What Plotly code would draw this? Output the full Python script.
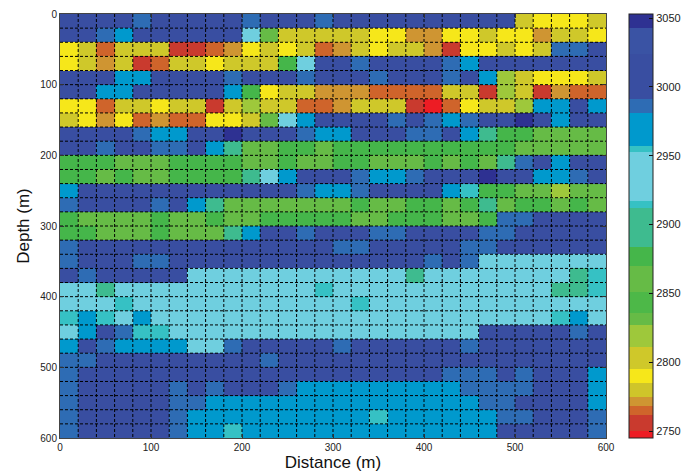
import plotly.graph_objects as go

# Cell edges (m): 20 m bins along distance and depth
distance_edges = list(range(0, 620, 20))
depth_edges = list(range(0, 620, 20))

# Interval velocity (m/s) per cell, rows from 0 m depth downward
velocity = [
    [3010,3010,3010,3010,2986,3010,3010,3010,3010,3010,2986,3010,3010,3010,2986,3010,3010,3010,3010,3010,3010,3010,3010,3010,3010,2803,2790,2790,2790,2803],
    [3010,3010,2986,2970,3010,3010,3010,3010,3010,3010,2935,2860,2803,2803,2803,2803,2803,2790,2790,2772,2772,2790,2790,2803,2790,2790,2772,2803,2803,2790],
    [2790,2803,2765,2803,2803,2803,2756,2756,2765,2772,2790,2803,2790,2803,2765,2772,2803,2790,2803,2803,2772,2756,2790,2790,2803,2790,2803,2986,2986,3010],
    [2790,2803,2772,2803,2756,2765,2803,2803,2790,2803,2803,2803,2877,2935,3010,3010,2986,3010,3010,3010,3010,2986,2970,3010,3010,3010,3010,3010,3010,3010],
    [3010,3010,3010,2970,2970,3010,3010,3010,3010,2986,3010,3010,3010,2986,3010,3010,3010,2986,3010,3010,3010,2986,3010,2970,2818,2803,2790,2790,2790,2803],
    [3010,3010,2970,2970,3010,3010,3010,3010,3010,2970,2877,2790,2803,2803,2772,2772,2772,2765,2765,2765,2765,2803,2803,2756,2818,2803,2756,2772,2765,2765],
    [2790,2790,2765,2803,2803,2790,2803,2803,2756,2803,2818,2803,2803,2765,2765,2772,2803,2803,2803,2756,2747,2765,2790,2803,2803,2818,2970,2970,3010,2970],
    [2803,2790,2772,2790,2765,2772,2765,2765,2790,2790,2803,2860,2935,2970,3010,3010,3010,3010,2986,3010,2986,2970,2986,3010,3010,3048,3010,2970,3010,3010],
    [3010,3010,3010,3010,2986,2970,2970,3010,3010,3048,3010,3010,3010,2986,2970,2970,3010,3010,3010,2986,2986,3010,2970,2898,2877,2877,2860,2860,2860,2860],
    [3010,3010,2986,3010,3010,2986,2986,3010,2970,2898,2860,2860,2877,2877,2860,2877,2877,2877,2877,2877,2877,2877,2877,2877,2877,2860,2860,2860,2860,2860],
    [2877,2877,2877,2860,2860,2860,2877,2877,2877,2877,2860,2860,2877,2860,2860,2877,2877,2860,2860,2860,2877,2860,2877,2860,2898,2986,3010,2970,3010,3010],
    [2877,2877,2860,2877,2860,2860,2877,2877,2877,2877,2898,2935,2970,3010,3010,3010,2986,2970,2970,2986,3010,3010,3010,3048,3010,3010,2970,2970,2986,3010],
    [2970,3010,3010,3010,3010,3010,3010,3010,3010,3010,3010,3010,3010,2986,2970,2970,2986,3010,3010,3010,3010,2970,2915,2877,2877,2860,2860,2818,2860,2860],
    [2986,3010,3010,3010,3010,2986,3010,2970,2898,2860,2860,2860,2860,2860,2860,2860,2877,2860,2860,2877,2877,2860,2877,2898,2860,2877,2877,2860,2877,2860],
    [2877,2860,2860,2860,2860,2877,2860,2860,2877,2860,2860,2877,2877,2877,2877,2877,2860,2860,2877,2877,2877,2860,2860,2877,2986,2986,3010,3010,3010,3010],
    [2877,2877,2860,2860,2860,2877,2860,2860,2860,2898,2970,3010,3010,2986,3010,3010,3010,2986,2986,3010,3010,3010,3010,2986,2986,3010,3010,3010,3010,3010],
    [2986,3010,3010,3010,3010,3010,3010,3010,3010,3010,3010,3010,3010,3010,3010,2986,2986,3010,3010,3010,3010,3010,2986,2986,3010,3010,3010,3010,3010,3010],
    [2986,3010,3010,3010,2986,2986,3010,3010,3010,3010,3010,3010,3010,3010,3010,3010,3010,3010,3010,3010,2986,3010,2986,2935,2935,2935,2935,2935,2935,2935],
    [3010,2986,3010,3010,3010,3010,3010,2935,2935,2935,2935,2935,2935,2935,2935,2935,2935,2935,2935,2898,2935,2935,2935,2935,2935,2935,2935,2935,2898,2915],
    [2935,2935,2898,2935,2935,2935,2935,2935,2935,2935,2935,2935,2935,2935,2915,2935,2935,2935,2935,2935,2935,2935,2935,2935,2935,2935,2935,2898,2898,2915],
    [2935,2935,2935,2915,2935,2935,2935,2935,2935,2935,2935,2935,2935,2935,2935,2935,2915,2935,2935,2935,2935,2935,2935,2935,2935,2935,2935,2935,2935,2935],
    [2915,2970,2915,2935,2970,2935,2935,2935,2935,2935,2935,2935,2935,2935,2935,2935,2935,2935,2935,2935,2935,2935,2935,2935,2935,2935,2935,2915,2970,2935],
    [2935,2970,3010,2986,2915,2915,2935,2935,2935,2935,2935,2935,2935,2935,2935,2935,2935,2935,2935,2935,2935,2935,2935,3010,3010,3010,3010,3010,2986,3010],
    [2970,3010,2986,2970,2970,2970,2970,2935,2935,2986,3010,3010,3010,3010,3010,2986,3010,3010,3010,3010,3010,3010,2986,3010,3010,3010,3010,3010,3010,3010],
    [2986,2986,3010,3010,3010,3010,3010,3010,3010,3010,3010,2986,3010,3010,3010,3010,3010,3010,3010,3010,3010,3010,3010,3010,3010,3010,3010,3010,3010,3010],
    [2986,3010,3010,3010,3010,3010,3010,3010,3010,3010,3010,3010,3010,3010,3010,3010,3010,3010,3010,3010,3010,2986,2986,2986,3010,2986,3010,3010,3010,2970],
    [2986,3010,3010,3010,3010,3010,2986,3010,2986,3010,3010,3010,2986,2970,2970,2970,2970,2970,2970,2970,2970,2970,2986,2986,2986,2986,3010,3010,3010,2970],
    [2986,3010,3010,3010,3010,3010,2986,2986,2970,2970,2970,2970,2970,2970,2970,2970,2970,2970,2970,2970,2970,2970,2970,2986,2986,3010,3010,3010,3010,2970],
    [2986,3010,3010,3010,3010,3010,2986,2970,2970,2970,2970,2970,2970,2970,2970,2970,2970,2915,2970,2970,2970,2970,2970,2970,2986,2986,3010,3010,3010,2986],
    [2986,3010,3010,3010,3010,3010,2986,2970,2970,2915,2970,2970,2970,2970,2970,2970,2970,2970,2970,2970,2970,2970,2970,2970,3010,3010,3010,3010,3010,2986],
]

colorbar_ticks = [2750, 2800, 2850, 2900, 2950, 3000, 3050]

# Discrete colour bands: (lower, upper, colour)
z_lo, z_hi = 2745, 3053
bands = [
    (2745, 2750, "#ed1c24"),
    (2750, 2762, "#c93a2e"),
    (2762, 2768, "#cf642b"),
    (2768, 2775, "#cf9532"),
    (2775, 2785, "#cfc52a"),
    (2785, 2795, "#f6e71a"),
    (2795, 2811, "#cfc82a"),
    (2811, 2827, "#9ec83b"),
    (2827, 2836, "#66bb46"),
    (2836, 2851, "#4db848"),
    (2851, 2870, "#66bb46"),
    (2870, 2884, "#45b64a"),
    (2884, 2912, "#3ebb8f"),
    (2912, 2917, "#36c1c4"),
    (2917, 2953, "#6fcfdf"),
    (2953, 2957, "#36c1c4"),
    (2957, 2981, "#0099cd"),
    (2981, 2991, "#2e6cb4"),
    (2991, 3024, "#394ea1"),
    (3024, 3043, "#3a53a4"),
    (3043, 3053, "#2e3192"),
]
colorscale = []
for lo, hi, col in bands:
    colorscale.append([(lo - z_lo) / (z_hi - z_lo), col])
    colorscale.append([(hi - z_lo) / (z_hi - z_lo), col])

fig = go.Figure()
fig.add_trace(go.Heatmap(
    x=distance_edges, y=depth_edges, z=velocity,
    zmin=z_lo, zmax=z_hi, colorscale=colorscale,
    colorbar=dict(
        x=1.042, xanchor="left", y=0.5, yanchor="middle",
        len=1.0, lenmode="fraction", thickness=24, ypad=0, xpad=0,
        outlinecolor="#222", outlinewidth=1,
        tickvals=colorbar_ticks, ticks="inside", ticklen=4, tickcolor="#111",
        tickfont=dict(family="Liberation Sans", size=11, color="#222"),
    ),
    hoverinfo="skip",
))

# Dashed cell-boundary grid drawn over the cells
gx, gy = [], []
for e in distance_edges[1:-1]:
    gx += [e, e, None]
    gy += [depth_edges[0], depth_edges[-1], None]
for e in depth_edges[1:-1]:
    gx += [distance_edges[0], distance_edges[-1], None]
    gy += [e, e, None]
fig.add_trace(go.Scatter(
    x=gx, y=gy, mode="lines",
    line=dict(color="#000", width=1, dash="3px,2px"),
    hoverinfo="skip", showlegend=False,
))

axis_common = dict(
    showgrid=False, zeroline=False, showline=True, linecolor="#444", linewidth=1,
    mirror="ticks", ticks="inside", ticklen=4, tickcolor="#333", dtick=100,
    tickfont=dict(family="Liberation Sans", size=10, color="#222"),
)
fig.update_xaxes(range=[0, 600], title=dict(text="Distance (m)", standoff=4,
                 font=dict(family="Liberation Sans", size=17, color="#111")), **axis_common)
fig.update_yaxes(range=[600, 0], title=dict(text="Depth (m)", standoff=6,
                 font=dict(family="Liberation Sans", size=17, color="#111")), **axis_common)

fig.update_layout(
    width=682, height=475,
    margin=dict(l=60, r=76, t=14, b=37, autoexpand=False),
    paper_bgcolor="white", plot_bgcolor="white",
    showlegend=False,
)

fig.write_html("out.html")
